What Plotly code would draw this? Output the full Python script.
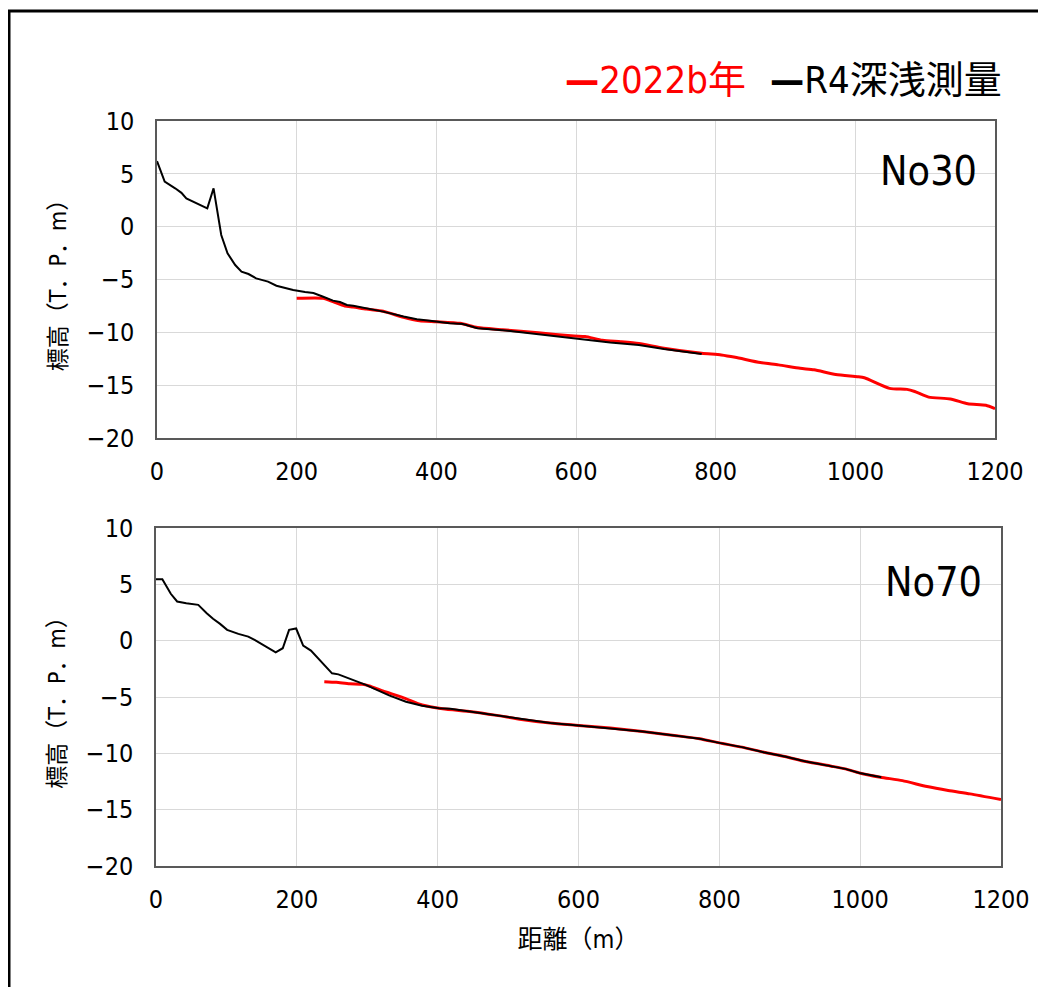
import plotly.graph_objects as go

# ---- data (No30) ----
no30_r4_x = [0, 11, 26, 35, 42, 52, 62, 72, 81, 92, 101, 112, 121, 131, 142, 159, 171, 181, 195, 212, 224, 238, 252, 262, 272, 281, 300, 324, 353, 372, 391, 419, 438, 459, 495, 546, 597, 649, 690, 726, 780]
no30_r4_y = [6.2, 4.26, 3.63, 3.2, 2.68, 2.36, 2.1, 1.74, 3.63, -0.79, -2.52, -3.63, -4.26, -4.48, -4.89, -5.2, -5.59, -5.74, -6.0, -6.18, -6.28, -6.63, -7.0, -7.13, -7.41, -7.48, -7.73, -8.04, -8.51, -8.77, -8.9, -9.15, -9.21, -9.62, -9.8, -10.19, -10.6, -10.97, -11.2, -11.57, -12.04]

no30_2022_x = [200, 238, 252, 269, 281, 300, 324, 353, 376, 400, 434, 459, 495, 546, 597, 613, 638, 664, 690, 726, 780, 808, 828, 864, 890, 921, 941, 972, 1003, 1013, 1049, 1074, 1085, 1105, 1136, 1161, 1187, 1200]
no30_2022_y = [-6.78, -6.78, -7.1, -7.5, -7.6, -7.8, -8.0, -8.58, -8.9, -8.99, -9.15, -9.55, -9.75, -10.05, -10.35, -10.4, -10.75, -10.88, -11.05, -11.5, -11.98, -12.14, -12.36, -12.86, -13.08, -13.4, -13.55, -14.0, -14.2, -14.3, -15.3, -15.4, -15.6, -16.13, -16.3, -16.76, -16.9, -17.23]

# ---- data (No70) ----
no70_r4_x = [0, 9, 21, 30, 43, 60, 72, 81, 91, 101, 117, 131, 140, 150, 159, 170, 180, 189, 199, 209, 220, 232, 250, 259, 270, 282, 298, 312, 331, 355, 378, 402, 418, 448, 484, 519, 560, 600, 645, 691, 736, 772, 800, 832, 863, 893, 923, 959, 979, 999, 1030]
no70_r4_y = [5.46, 5.46, 4.16, 3.48, 3.33, 3.18, 2.44, 1.94, 1.49, 0.96, 0.6, 0.36, 0.07, -0.29, -0.67, -1.03, -0.67, 0.96, 1.08, -0.44, -0.88, -1.71, -2.9, -2.99, -3.25, -3.52, -3.93, -4.32, -4.85, -5.42, -5.77, -6.0, -6.05, -6.3, -6.63, -6.99, -7.31, -7.52, -7.76, -8.06, -8.41, -8.7, -9.07, -9.45, -9.9, -10.28, -10.73, -11.14, -11.38, -11.74, -12.12]

no70_2022_x = [239, 256, 275, 293, 303, 322, 350, 378, 407, 448, 484, 519, 560, 600, 645, 691, 736, 772, 800, 832, 863, 893, 923, 959, 979, 999, 1029, 1060, 1095, 1125, 1156, 1200]
no70_2022_y = [-3.64, -3.7, -3.82, -3.87, -4.02, -4.47, -5.03, -5.71, -6.04, -6.3, -6.63, -6.99, -7.31, -7.52, -7.76, -8.06, -8.41, -8.7, -9.07, -9.45, -9.9, -10.28, -10.73, -11.14, -11.38, -11.74, -12.12, -12.42, -12.95, -13.3, -13.6, -14.1]

x_ticks = [0, 200, 400, 600, 800, 1000, 1200]
y_ticks = [10, 5, 0, -5, -10, -15, -20]
series_names = ["2022b年", "R4深浅測量"]
panel_labels = ["No30", "No70"]
y_title = "標高（T．P．m）"
x_title = "距離（m）"

W, H = 1046, 987
OFF = 8  # page body margin
FONT = "DejaVu Sans Condensed, Noto Sans CJK JP, sans-serif"

RED = "#ff0000"
BLACK = "#000000"

fig = go.Figure()
fig.add_trace(go.Scatter(x=no30_2022_x, y=no30_2022_y, mode="lines", name=series_names[0],
                         line=dict(color=RED, width=3, shape="spline", smoothing=0.6),
                         xaxis="x", yaxis="y", showlegend=False))
fig.add_trace(go.Scatter(x=no30_r4_x, y=no30_r4_y, mode="lines", name=series_names[1],
                         line=dict(color=BLACK, width=2),
                         xaxis="x", yaxis="y", showlegend=False))
fig.add_trace(go.Scatter(x=no70_2022_x, y=no70_2022_y, mode="lines", name=series_names[0],
                         line=dict(color=RED, width=3, shape="spline", smoothing=0.6),
                         xaxis="x2", yaxis="y2", showlegend=False))
fig.add_trace(go.Scatter(x=no70_r4_x, y=no70_r4_y, mode="lines", name=series_names[1],
                         line=dict(color=BLACK, width=2),
                         xaxis="x2", yaxis="y2", showlegend=False))

def px_x(p):
    return (p - OFF) / W

def px_y(p):
    return 1 - (p - OFF) / H

axis_common = dict(showgrid=True, gridcolor="#d9d9d9", gridwidth=1.3, automargin=False,
                   showline=True, linecolor="#595959", linewidth=1.5, mirror=True,
                   zeroline=False, ticks="", tickfont=dict(family=FONT, size=25, color="#000"))

fig.update_layout(
    width=W, height=H, autosize=False,
    margin=dict(l=0, r=0, t=0, b=0, pad=0, autoexpand=False),
    paper_bgcolor="white", plot_bgcolor="white",
    xaxis=dict(domain=[px_x(157), px_x(995)], range=[0, 1200], tickvals=x_ticks,
               anchor="y", ticklabelstandoff=10, **axis_common),
    yaxis=dict(domain=[px_y(438), px_y(121)], range=[-20, 10], tickvals=y_ticks,
               anchor="x", ticklabelstandoff=16,
               title=dict(text=y_title, font=dict(family=FONT, size=23, color="#000"), standoff=14),
               **axis_common),
    xaxis2=dict(domain=[px_x(156), px_x(1001)], range=[0, 1200], tickvals=x_ticks,
                anchor="y2", ticklabelstandoff=10,
                title=dict(text=x_title, font=dict(family=FONT, size=25, color="#000"), standoff=18),
                **axis_common),
    yaxis2=dict(domain=[px_y(866), px_y(528)], range=[-20, 10], tickvals=y_ticks,
                anchor="x2", ticklabelstandoff=16,
                title=dict(text=y_title, font=dict(family=FONT, size=23, color="#000"), standoff=14),
                **axis_common),
    shapes=[dict(type="rect", xref="paper", yref="paper",
                 x0=px_x(9), x1=1.2, y0=-0.2, y1=px_y(11),
                 line=dict(color="black", width=3), fillcolor="rgba(0,0,0,0)")],
    annotations=[
        dict(text="<b>—</b>" + series_names[0], x=px_x(748), y=px_y(80), xref="paper", yref="paper",
             xanchor="right", yanchor="middle", showarrow=False,
             font=dict(family=FONT, size=38, color=RED)),
        dict(text="<b>—</b>" + series_names[1], x=px_x(768), y=px_y(80), xref="paper", yref="paper",
             xanchor="left", yanchor="middle", showarrow=False,
             font=dict(family=FONT, size=38, color=BLACK)),
        dict(text=panel_labels[0], x=px_x(928), y=px_y(171), xref="paper", yref="paper",
             xanchor="center", yanchor="middle", showarrow=False,
             font=dict(family=FONT, size=41, color=BLACK)),
        dict(text=panel_labels[1], x=px_x(933), y=px_y(582), xref="paper", yref="paper",
             xanchor="center", yanchor="middle", showarrow=False,
             font=dict(family=FONT, size=41, color=BLACK)),
    ],
)

fig.write_html("out.html")
